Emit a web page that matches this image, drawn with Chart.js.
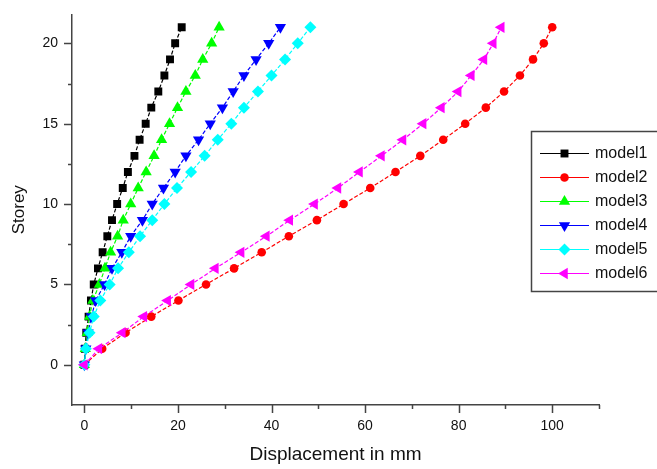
<!DOCTYPE html>
<html>
<head>
<meta charset="utf-8">
<script src="https://cdn.jsdelivr.net/npm/chart.js@4.4.1/dist/chart.umd.min.js"></script>
<style>
  body { margin: 0; background: #fff; }
  #wrap { width: 657px; height: 469px; position: relative; }
</style>
</head>
<body>
<div id="wrap"><canvas id="myChart"></canvas></div>
<script>
// storey numbers and displacement (mm)
const storeys = [0, 1, 2, 3, 4, 5, 6, 7, 8, 9, 10, 11, 12, 13, 14, 15, 16, 17, 18, 19, 20, 21];
const model1 = [0, 0.1, 0.4, 0.9, 1.4, 2.0, 2.9, 3.9, 4.9, 5.9, 7.0, 8.2, 9.3, 10.7, 11.8, 13.1, 14.3, 15.8, 17.1, 18.3, 19.4, 20.8];
const model2 = [0, 3.8, 8.8, 14.3, 20.1, 26.0, 32.0, 37.9, 43.7, 49.7, 55.4, 61.1, 66.5, 71.8, 76.7, 81.4, 85.8, 89.7, 93.1, 95.9, 98.2, 100.0];
const model3 = [0, 0.2, 0.6, 1.1, 1.8, 3.2, 4.4, 5.6, 7.1, 8.3, 9.9, 11.5, 13.2, 14.9, 16.5, 18.2, 19.9, 21.7, 23.7, 25.3, 27.2, 28.8];
const model4 = [0, 0.3, 0.8, 1.5, 2.4, 4.3, 5.9, 8.0, 9.9, 12.4, 14.5, 16.9, 19.4, 21.7, 24.4, 26.9, 29.5, 31.8, 34.1, 36.7, 39.4, 41.9];
const model5 = [0, 0.3, 1.1, 2.0, 3.4, 5.4, 7.2, 9.5, 11.9, 14.5, 17.1, 19.8, 22.8, 25.7, 28.5, 31.4, 34.1, 37.1, 40.0, 42.9, 45.6, 48.3];
const model6 = [0, 3.1, 8.1, 12.7, 17.8, 22.8, 28.0, 33.5, 38.9, 43.9, 49.2, 54.2, 58.8, 63.5, 68.1, 72.4, 76.3, 79.9, 82.7, 85.4, 87.4, 89.1];

const seriesNames = ['model1', 'model2', 'model3', 'model4', 'model5', 'model6'];
const xTicks = [0, 10, 20, 30, 40, 50, 60, 70, 80, 90, 100, 110];
const xLabels = [0, 20, 40, 60, 80, 100];
const yTicks = [0, 2.5, 5, 7.5, 10, 12.5, 15, 17.5, 20];
const yLabels = [0, 5, 10, 15, 20];

const styles = [
    {color: '#000000', pointStyle: 'rect', radius: 5.6, rotation: 0},
    {color: '#ff0000', pointStyle: 'circle', radius: 4.3, rotation: 0},
    {color: '#00ff00', pointStyle: 'triangle', radius: 6.5, rotation: 0},
    {color: '#0000ff', pointStyle: 'triangle', radius: 6.5, rotation: 180},
    {color: '#00ffff', pointStyle: 'rectRot', radius: 6, rotation: 0},
    {color: '#ff00ff', pointStyle: 'triangle', radius: 6.5, rotation: 270},
];

const allSeries = [model1, model2, model3, model4, model5, model6];

const datasets = allSeries.map((vals, i) => ({
    label: seriesNames[i],
    data: vals.map((v, j) => ({x: v, y: storeys[j]})),
    showLine: true,
    borderColor: styles[i].color,
    backgroundColor: styles[i].color,
    borderWidth: 1.2,
    borderDash: [4, 2],
    pointStyle: styles[i].pointStyle,
    pointRotation: styles[i].rotation,
    pointRadius: styles[i].radius,
    pointBorderWidth: 0,
    pointBackgroundColor: styles[i].color,
    order: 6 - i,
}));

const tickFont = {family: 'Arial, "Liberation Sans"', size: 14};

// short ticks for the unlabeled values, long ticks for the labeled ones
const tickMarks = {
    id: 'tickMarks',
    afterDraw(chart) {
        const ctx = chart.ctx;
        const xs = chart.scales.x, ys = chart.scales.y;
        ctx.save();
        ctx.strokeStyle = '#444';
        ctx.lineWidth = 1.5;
        ctx.beginPath();
        xTicks.forEach(v => {
            const px = Math.round(xs.getPixelForValue(v)) + 0.5;
            const len = xLabels.includes(v) ? 8 : 4;
            ctx.moveTo(px, xs.top);
            ctx.lineTo(px, xs.top + len);
        });
        yTicks.forEach(v => {
            const py = Math.round(ys.getPixelForValue(v)) + 0.5;
            const len = yLabels.includes(v) ? 8 : 4;
            ctx.moveTo(ys.right, py);
            ctx.lineTo(ys.right - len, py);
        });
        ctx.stroke();
        ctx.restore();
    }
};

const boxLegend = {
    id: 'boxLegend',
    afterDraw(chart) {
        const ctx = chart.ctx;
        ctx.save();
        ctx.strokeStyle = '#444';
        ctx.lineWidth = 1.5;
        ctx.strokeRect(531.5, 131.5, 160, 160);
        chart.data.datasets.forEach((ds, i) => {
            const y = 153 + i * 24;
            ctx.strokeStyle = ds.borderColor;
            ctx.fillStyle = ds.borderColor;
            ctx.lineWidth = 1;
            ctx.setLineDash([]);
            ctx.beginPath();
            ctx.moveTo(540, y + 0.5);
            ctx.lineTo(589, y + 0.5);
            ctx.stroke();
            Chart.helpers.drawPoint(ctx, {
                pointStyle: ds.pointStyle,
                radius: ds.pointRadius,
                rotation: ds.pointRotation,
                borderWidth: 0,
            }, 564.5, y + 0.5);
            ctx.fillStyle = '#111';
            ctx.font = '16px Arial, "Liberation Sans"';
            ctx.textBaseline = 'middle';
            ctx.textAlign = 'left';
            ctx.fillText(ds.label, 595, y + 1);
        });
        ctx.restore();
    }
};

const ctx = document.getElementById('myChart');
const myChart = new Chart(ctx, {
    type: 'scatter',
    data: {datasets: datasets},
    plugins: [tickMarks, boxLegend],
    options: {
        responsive: true,
        maintainAspectRatio: false,
        animation: false,
        layout: {padding: {top: 7, right: 58, left: 0, bottom: 0}},
        plugins: {
            legend: {display: false},
            tooltip: {enabled: false},
        },
        scales: {
            x: {
                type: 'linear',
                min: -2.65,
                max: 110,
                afterFit: (scale) => { scale.height = 64; },
                afterBuildTicks: (scale) => { scale.ticks = xTicks.map(v => ({value: v})); },
                grid: {drawOnChartArea: false, tickLength: 8, tickColor: 'transparent'},
                border: {color: '#444', width: 1.5},
                ticks: {
                    autoSkip: false,
                    maxRotation: 0,
                    padding: 5,
                    color: '#111',
                    font: tickFont,
                    callback: (v) => xLabels.includes(v) ? String(v) : '',
                },
                title: {
                    display: true,
                    text: 'Displacement in mm',
                    color: '#111',
                    font: {family: 'Arial, "Liberation Sans"', size: 19},
                    padding: {top: 0, bottom: 3},
                },
            },
            y: {
                type: 'linear',
                min: -2.5,
                max: 21.8,
                afterFit: (scale) => { scale.width = 72; },
                afterBuildTicks: (scale) => { scale.ticks = yTicks.map(v => ({value: v})); },
                grid: {drawOnChartArea: false, tickLength: 8, tickColor: 'transparent'},
                border: {color: '#444', width: 1.5},
                ticks: {
                    autoSkip: false,
                    padding: 6,
                    color: '#111',
                    font: tickFont,
                    callback: (v) => yLabels.includes(v) ? String(v) : '',
                },
                title: {
                    display: true,
                    text: 'Storey',
                    color: '#111',
                    font: {family: 'Arial, "Liberation Sans"', size: 17},
                    padding: {top: 9, bottom: 0},
                },
            },
        },
    },
});
</script>
</body>
</html>
